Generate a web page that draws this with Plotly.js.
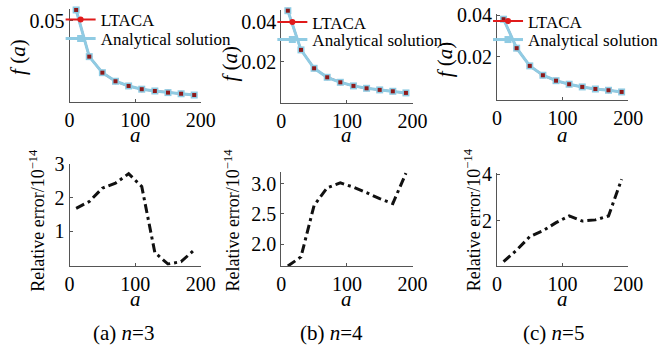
<!DOCTYPE html>
<html><head><meta charset="utf-8">
<script src="https://cdn.plot.ly/plotly-3.0.1.min.js"></script>
<style>html,body{margin:0;padding:0;background:#fff}#chart{width:664px;height:346px}</style>
</head><body><div id="chart"></div>
<script>
// ---- data ----
const aVals = [10, 30, 50, 70, 90, 110, 130, 150, 170, 190];
// f(a): LTACA and analytical solution (they coincide)
const fLTACA_n3 = [0.0566, 0.0278, 0.0179, 0.0126, 0.0097, 0.0077, 0.0066, 0.0056, 0.0049, 0.0041];
const fExact_n3 = [0.0566, 0.0278, 0.0179, 0.0126, 0.0097, 0.0077, 0.0066, 0.0056, 0.0049, 0.0041];
const fLTACA_n4 = [0.0455, 0.0259, 0.0167, 0.0122, 0.0097, 0.0079, 0.0067, 0.0059, 0.0052, 0.0044];
const fExact_n4 = [0.0455, 0.0259, 0.0167, 0.0122, 0.0097, 0.0079, 0.0067, 0.0059, 0.0052, 0.0044];
const fLTACA_n5 = [0.0380, 0.0241, 0.0156, 0.0111, 0.0085, 0.0068, 0.0055, 0.0045, 0.0039, 0.0031];
const fExact_n5 = [0.0380, 0.0241, 0.0156, 0.0111, 0.0085, 0.0068, 0.0055, 0.0045, 0.0039, 0.0031];
// relative error (x 1e-14)
const err_n3 = [1.69, 1.89, 2.29, 2.44, 2.72, 2.34, 0.37, 0.03, 0.10, 0.45];
const err_n4 = [1.64, 1.79, 2.64, 2.93, 3.01, 2.94, 2.85, 2.75, 2.67, 3.17];
const err_n5 = [0.23, 0.73, 1.31, 1.56, 1.91, 2.20, 1.98, 2.03, 2.20, 3.78];
const xTicks = [0, 100, 200];
const seriesNames = ['LTACA', 'Analytical solution'];
const captions = ['(a) <i>n</i>=3', '(b) <i>n</i>=4', '(c) <i>n</i>=5'];

// ---- layout helpers ----
const W = 664, H = 346;
const px = x => x / W, py = y => 1 - y / H;
const FONT = 'Liberation Serif';
const red = '#e01b1b', blue = '#8fcbe3', darkred = '#8e1a1a';

const traces = [];
const tops = [[fLTACA_n3, fExact_n3], [fLTACA_n4, fExact_n4], [fLTACA_n5, fExact_n5]];
const errs = [err_n3, err_n4, err_n5];
const lgName = j => j === 1 ? 'legend' : 'legend' + j;
tops.forEach((pair, i) => {
  const xa = 'x' + (i === 0 ? '' : (i + 1)), ya = 'y' + (i === 0 ? '' : (i + 1));
  traces.push({x: aVals, y: pair[0], xaxis: xa, yaxis: ya, name: seriesNames[0], legend: lgName(2 * i + 1),
    mode: 'lines+markers', line: {color: red, width: 2}, marker: {symbol: 'circle', size: 6, color: red}, cliponaxis: false});
  traces.push({x: aVals, y: pair[1], xaxis: xa, yaxis: ya, name: seriesNames[1], legend: lgName(2 * i + 2),
    mode: 'lines+markers', line: {color: blue, width: 3}, marker: {symbol: 'square', size: 7, color: blue}, cliponaxis: false});
  traces.push({x: aVals, y: pair[0], xaxis: xa, yaxis: ya, showlegend: false, hoverinfo: 'skip',
    mode: 'markers', marker: {symbol: 'square', size: 4, color: darkred}, cliponaxis: false});
});
errs.forEach((e, i) => {
  const n = i + 4;
  traces.push({x: aVals, y: e, xaxis: 'x' + n, yaxis: 'y' + n, showlegend: false, mode: 'lines',
    line: {color: '#111', width: 3, dash: '9px,4px,3px,4px'}});
});

const cols = [[70, 202], [283, 415], [500, 632]];
const topDom = [[102, 9], [103.3, 10], [100, 14]];
const topRange = [[-0.0002, 0.0572], [-0.0008, 0.04585], [-0.00077, 0.0405]];
const topTicks = [[0.05], [0.02, 0.04], [0.02, 0.04]];
const botDom = [[265.7, 164], [266, 172], [266, 173]];
const botRange = [[-0.02, 3.01], [1.64, 3.19], [0.043, 4.05]];
const botTicks = [[1, 2, 3], [2.0, 2.5, 3.0], [2, 4]];
const botFmt = ['d', '.1f', 'd'];
const legRowY = [[20, 39], [22.5, 40], [21.5, 40]];

const axBase = {
  showgrid: false, zeroline: false, showline: true, linecolor: '#555', linewidth: 1,
  ticks: 'inside', ticklen: 3, tickcolor: '#555', mirror: false,
  tickfont: {family: FONT, size: 20, color: '#000'}, fixedrange: true
};
const layout = {
  width: W, height: H, margin: {l: 0, r: 0, t: 0, b: 0},
  paper_bgcolor: '#fff', plot_bgcolor: 'rgba(0,0,0,0)',
  font: {family: FONT, color: '#000'}, showlegend: true, annotations: []
};
for (let i = 0; i < 3; i++) {
  const k = i === 0 ? '' : (i + 1);
  layout['xaxis' + k] = Object.assign({}, axBase, {domain: [px(cols[i][0]), px(cols[i][1])], range: [0, 200],
    tickvals: xTicks, anchor: 'y' + k});
  layout['yaxis' + k] = Object.assign({}, axBase, {domain: [py(topDom[i][0]), py(topDom[i][1])], range: topRange[i],
    tickvals: topTicks[i], tickformat: '.2f', anchor: 'x' + k});
  const m = i + 4;
  layout['xaxis' + m] = Object.assign({}, axBase, {domain: [px(cols[i][0]), px(cols[i][1])], range: [0, 200],
    tickvals: xTicks, anchor: 'y' + m});
  layout['yaxis' + m] = Object.assign({}, axBase, {domain: [py(botDom[i][0]), py(botDom[i][1])], range: botRange[i],
    tickvals: botTicks[i], tickformat: botFmt[i], anchor: 'x' + m});
  for (let r = 0; r < 2; r++) {
    layout[lgName(2 * i + 1 + r)] = {x: px(cols[i][0] - 9), y: py(legRowY[i][r]), xanchor: 'left', yanchor: 'middle',
      bgcolor: 'rgba(0,0,0,0)', borderwidth: 0, font: {family: FONT, size: 17, color: '#000'}, itemwidth: 30};
  }
}
// titles
const fTitleX = [18, 231, 448], fTitleY = [57, 64, 59];
const rTitleX = [37, 233, 475];
const capX = [124, 334, 557];
for (let i = 0; i < 3; i++) {
  const mid = (cols[i][0] + cols[i][1]) / 2;
  layout.annotations.push({xref: 'paper', yref: 'paper', x: px(fTitleX[i]), y: py(fTitleY[i]), text: '<i>f</i> (<i>a</i>)',
    textangle: -90, showarrow: false, font: {family: FONT, size: 21}, xanchor: 'center', yanchor: 'middle'});
  layout.annotations.push({xref: 'paper', yref: 'paper', x: px(mid), y: py(135), text: '<i>a</i>',
    showarrow: false, font: {family: FONT, size: 21}, xanchor: 'center', yanchor: 'middle'});
  layout.annotations.push({xref: 'paper', yref: 'paper', x: px(rTitleX[i]), y: py(220), text: 'Relative error/10<sup>−14</sup>',
    textangle: -90, showarrow: false, font: {family: FONT, size: 18}, xanchor: 'center', yanchor: 'middle'});
  layout.annotations.push({xref: 'paper', yref: 'paper', x: px(mid), y: py(299), text: '<i>a</i>',
    showarrow: false, font: {family: FONT, size: 21}, xanchor: 'center', yanchor: 'middle'});
  layout.annotations.push({xref: 'paper', yref: 'paper', x: px(capX[i]), y: py(333), text: captions[i],
    showarrow: false, font: {family: FONT, size: 21}, xanchor: 'center', yanchor: 'middle'});
}
Plotly.newPlot('chart', traces, layout, {staticPlot: true, displayModeBar: false});
</script></body></html>
